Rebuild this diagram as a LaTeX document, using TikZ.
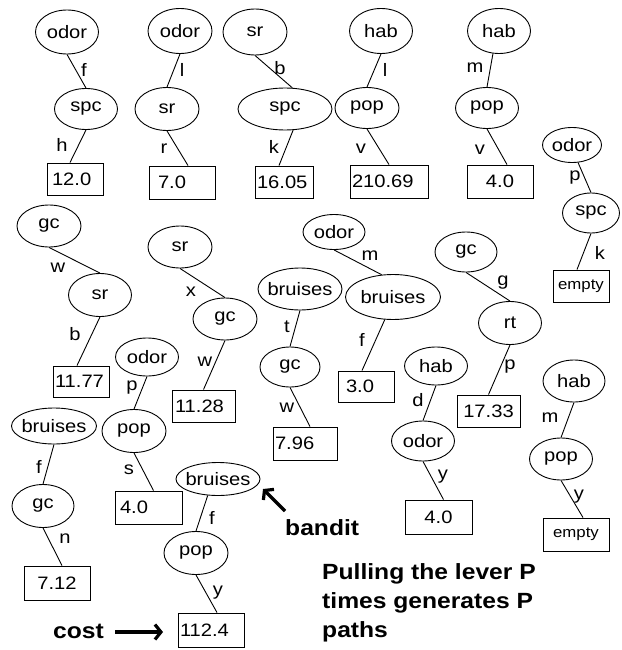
\documentclass[tikz,border=0pt]{standalone}
\usepackage{fontspec}
\setmainfont{Liberation Sans}[FakeStretch=1.12]
\usetikzlibrary{shapes.geometric,arrows.meta}
\newcommand\mkz[1]{\makebox[0pt]{#1}}
\begin{document}
\begin{tikzpicture}[x=1pt,y=-1pt,
  every node/.style={font=\fontsize{18}{20}\selectfont},
  el/.style 2 args={draw, ellipse, line width=0.9pt, minimum width=#1, minimum height=#2, inner sep=0pt},
  vb/.style n args={4}{draw, rectangle, line width=0.9pt, minimum height=#2, inner ysep=0pt, inner xsep=#3, text width=#1, align=#4},
  lbl/.style={inner sep=0pt},
  conn/.style={line width=0.9pt},
  bigarrow/.style={line width=3.2pt, -{Straight Barb[length=6pt,width=15pt]}},
  notet/.style={font=\fontsize{22}{29}\selectfont\bfseries, inner sep=0pt},
  smallt/.style={font=\fontsize{15}{17}\selectfont}]
\useasboundingbox[fill=white] (0,0) rectangle (621,650);

% ellipses
\node[el={63}{44}] (o1) at (67,32) {\mkz{odor}};
\node[el={63}{41}] (s1) at (86,109) {\mkz{spc}};
\node[el={64}{45}] (o2) at (180,31) {\mkz{odor}};
\node[el={64}{43}] (r2) at (167,109) {\mkz{sr}};
\node[el={64}{46}] (t3) at (255,32) {\mkz{sr}};
\node[el={94}{42}] (s3) at (285,109) {\mkz{spc}};
\node[el={63}{45}] (h4) at (381,31) {\mkz{hab}};
\node[el={64}{41}] (p4) at (367,108) {\mkz{pop}};
\node[el={63}{45}] (h5) at (499,31) {\mkz{hab}};
\node[el={63}{41}] (p5) at (487,108) {\mkz{pop}};
\node[el={59}{35}] (o6) at (572,145) {\mkz{odor}};
\node[el={57}{40}] (s6) at (591,213) {\mkz{spc}};
\node[el={64}{42}] (g7) at (49,226) {\mkz{gc}};
\node[el={63}{43}] (r7) at (100,295) {\mkz{sr}};
\node[el={64}{42}] (r8) at (180,247) {\mkz{sr}};
\node[el={64}{42}] (g8) at (225,319) {\mkz{gc}};
\node[el={63}{38}] (o9) at (147,357) {\mkz{odor}};
\node[el={64}{43}] (p9) at (134,431) {\mkz{pop}};
\node[el={85}{36}] (b10) at (54,426) {\mkz{bruises}};
\node[el={62}{43}] (g10) at (43,506) {\mkz{gc}};
\node[el={84}{33}] (b11) at (218,479) {\mkz{bruises}};
\node[el={64}{43}] (p11) at (196,553) {\mkz{pop}};
\node[el={62}{35}] (o12) at (334,232) {\mkz{odor}};
\node[el={95}{45}] (b13) at (393,297) {\mkz{bruises}};
\node[el={84}{42}] (b14) at (300,289) {\mkz{bruises}};
\node[el={60}{40}] (g14) at (290,367) {\mkz{gc}};
\node[el={62}{40}] (g15) at (466,252) {\mkz{gc}};
\node[el={63}{43}] (rt15) at (510,323) {\mkz{rt}};
\node[el={63}{38}] (h16) at (436,366) {\mkz{hab}};
\node[el={63}{40}] (o16) at (423,441) {\mkz{odor}};
\node[el={62}{42}] (h17) at (574,381) {\mkz{hab}};
\node[el={63}{42}] (p17) at (561,459) {\mkz{pop}};

% value boxes
\node[vb={46pt}{32}{5pt}{left}] (v1) at (75,179) {12.0};
\node[vb={48pt}{33}{9pt}{left}] (v2) at (182,182.5) {7.0};
\node[vb={54pt}{32}{2pt}{left}] (v3) at (284,182) {16.05};
\node[vb={74pt}{33}{2pt}{left}] (v4) at (389,181.5) {210.69};
\node[vb={62pt}{33}{2pt}{center}] (v5) at (500,181.5) {4.0};
\node[vb={52pt}{32}{2pt}{center}, smallt] (v6) at (581,286) {empty};
\node[vb={52pt}{31}{2pt}{left}] (v7) at (81,381.5) {11.77};
\node[vb={57pt}{32}{3pt}{left}] (v8) at (203.5,406) {11.28};
\node[vb={57pt}{33}{5pt}{left}] (v9) at (148.5,507.5) {4.0};
\node[vb={62pt}{34}{2pt}{center}] (v10) at (57,583) {7.12};
\node[vb={62pt}{34}{2pt}{left}] (v11) at (211,630) {112.4};
\node[vb={40pt}{31}{8pt}{left}] (v13) at (366,386.5) {3.0};
\node[vb={60pt}{33}{2pt}{left}] (v14) at (305,443.5) {7.96};
\node[vb={59pt}{32}{2pt}{center}] (v15) at (488.5,411) {17.33};
\node[vb={63pt}{34}{2pt}{center}] (v16) at (438.5,517) {4.0};
\node[vb={62pt}{33}{2pt}{center}, smallt] (v17) at (576,534.5) {empty};

% connectors
\draw[conn] (o1.south) -- (s1.north);
\draw[conn] (s1.south) -- ([xshift=-5pt]v1.north);
\draw[conn] (o2.south) -- (r2.north);
\draw[conn] (r2.south) -- ([xshift=6pt]v2.north);
\draw[conn] (t3.south) -- (s3.71);
\draw[conn] (s3.-69) -- ([xshift=-5pt]v3.north);
\draw[conn] (h4.south) -- (p4.north);
\draw[conn] (p4.south) -- (v4.north);
\draw[conn] (h5.-105) -- (p5.north);
\draw[conn] (p5.south) -- ([xshift=7pt]v5.north);
\draw[conn] (o6.-71) -- (s6.north);
\draw[conn] (s6.south) -- ([xshift=-4pt]v6.north);
\draw[conn] (g7.south) -- (r7.north);
\draw[conn] (r7.south) -- ([xshift=-4pt]v7.north);
\draw[conn] (r8.south) -- (g8.north);
\draw[conn] (g8.south) -- (v8.north);
\draw[conn] (o9.south) -- (p9.north);
\draw[conn] (p9.south) -- ([xshift=5pt]v9.north);
\draw[conn] (b10.south) -- (g10.north);
\draw[conn] (g10.south) -- ([xshift=5pt]v10.north);
\draw[conn] (b11.-122) -- (p11.north);
\draw[conn] (p11.south) -- ([xshift=6pt]v11.north);
\draw[conn] (o12.south) -- (b13.117);
\draw[conn] (b13.-110) -- ([xshift=-4pt]v13.north);
\draw[conn] (b14.south) -- (g14.north);
\draw[conn] (g14.south) -- ([xshift=5pt]v14.north);
\draw[conn] (g15.south) -- (rt15.north);
\draw[conn] (rt15.south) -- (v15.north);
\draw[conn] (h16.south) -- (o16.north);
\draw[conn] (o16.south) -- ([xshift=5pt]v16.north);
\draw[conn] (h17.south) -- (p17.north);
\draw[conn] (p17.south) -- ([xshift=7pt]v17.north);

% connector labels
\node[lbl] (lf1) at (84,70) {f};
\node[lbl] (lh1) at (62,145) {h};
\node[lbl] (ll2) at (182,70) {l};
\node[lbl] (lr2) at (164,149) {r};
\node[lbl] (lb3) at (280,68) {b};
\node[lbl] (lk3) at (274,147) {k};
\node[lbl] (ll4) at (385,70) {l};
\node[lbl] (lv4) at (361,149) {v};
\node[lbl] (lm5) at (475,68) {m};
\node[lbl] (lv5) at (480,150) {v};
\node[lbl] (lp6) at (575,178) {p};
\node[lbl] (lk6) at (600,253) {k};
\node[lbl] (lw7) at (58,268) {w};
\node[lbl] (lb7) at (75,334) {b};
\node[lbl] (lx8) at (191,292) {x};
\node[lbl] (lw8) at (205,362) {w};
\node[lbl] (lp9) at (132,388) {p};
\node[lbl] (ls9) at (129,470) {s};
\node[lbl] (lf10) at (39,467) {f};
\node[lbl] (ln10) at (65,539) {n};
\node[lbl] (lf11) at (212,518) {f};
\node[lbl] (ly11) at (218,593) {y};
\node[lbl] (lm12) at (370,256) {m};
\node[lbl] (lf13) at (362,340) {f};
\node[lbl] (lt14) at (287,327) {t};
\node[lbl] (lw14) at (287,408) {w};
\node[lbl] (lg15) at (503,283) {g};
\node[lbl] (lp15) at (510,367) {p};
\node[lbl] (ld16) at (418,400) {d};
\node[lbl] (ly16) at (443,477) {y};
\node[lbl] (lm17) at (550,418) {m};
\node[lbl] (ly17) at (579,497) {y};

% annotations
\node[notet, anchor=base west] (cost) at (53,638) {cost};
\node[notet, anchor=base west] (bandit) at (285,535) {bandit};
\node[notet, anchor=north west, align=left] (pull) at (322,563) {Pulling the lever P\\times generates P\\paths};
\coordinate (ca) at (115,632);
\coordinate (cb) at (163,632);
\draw[bigarrow] (ca) -- (cb);
\coordinate (ba) at (285,511);
\coordinate (bb) at (263,489);
\draw[bigarrow] (ba) -- (bb);
\end{tikzpicture}
\end{document}
